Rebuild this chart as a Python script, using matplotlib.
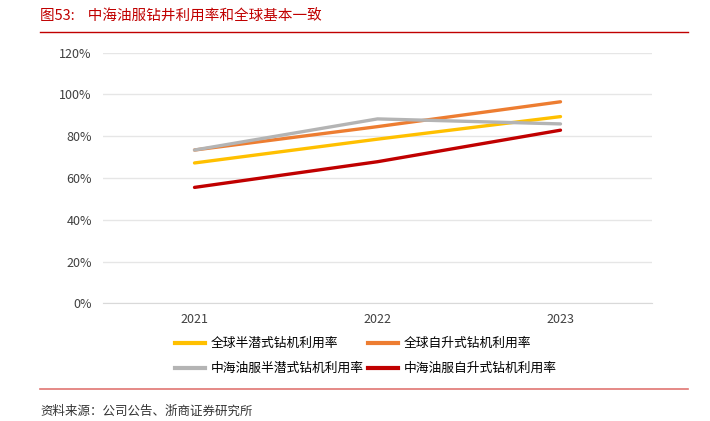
import matplotlib
matplotlib.use('Agg')
import matplotlib.pyplot as plt
from matplotlib.lines import Line2D
from matplotlib.ticker import FuncFormatter

plt.rcParams['font.family'] = ['Noto Sans CJK SC', 'DejaVu Sans']

years = ['2021', '2022', '2023']
global_semi = [67.2, 78.6, 89.4]      # 全球半潜式钻机利用率
global_jackup = [73.4, 84.6, 96.5]    # 全球自升式钻机利用率
cosl_semi = [73.4, 88.3, 85.9]        # 中海油服半潜式钻机利用率
cosl_jackup = [55.5, 67.8, 82.9]      # 中海油服自升式钻机利用率

series_names = ['全球半潜式钻机利用率', '全球自升式钻机利用率',
                '中海油服半潜式钻机利用率', '中海油服自升式钻机利用率']
colors = ['#FFC000', '#ED7D31', '#B4B4B4', '#C00000']

fig = plt.figure(figsize=(7.1, 4.21), dpi=100)
ax = fig.add_axes([0.1451, 0.2796, 0.7732, 0.5952])

x = range(len(years))
for vals, c in zip([global_semi, global_jackup, cosl_semi, cosl_jackup], colors):
    ax.plot(x, vals, color=c, lw=2.4, solid_capstyle='round')

ax.set_xlim(-0.5, 2.5)
ax.set_ylim(0, 120)
ax.set_yticks(range(0, 121, 20))
ax.yaxis.set_major_formatter(FuncFormatter(lambda v, p: f'{v:.0f}%'))
ax.set_xticks(list(x))
ax.set_xticklabels(years)
ax.grid(axis='y', color='#E6E6E6', lw=1)
ax.set_axisbelow(True)
for s in ax.spines.values():
    s.set_visible(False)
ax.spines['bottom'].set_visible(True)
ax.spines['bottom'].set_color('#D9D9D9')
ax.tick_params(length=0, labelsize=9, colors='#404040')
ax.tick_params(axis='y', pad=8)
ax.tick_params(axis='x', pad=7)

# legend is filled column by column, so reorder to get row-major layout
order = [0, 2, 1, 3]
handles = [Line2D([], [], color=colors[i], lw=3) for i in order]
labels = [series_names[i] for i in order]
fig.legend(handles, labels, ncol=2, loc='upper left',
           bbox_to_anchor=(175/710, 1 - 337/421), frameon=False, fontsize=9.2,
           handlelength=2.35, handletextpad=0.45, columnspacing=0.3,
           labelspacing=0.95, borderaxespad=0, borderpad=0)

# header and footer
fig.text(40/710, 1 - 17/421, '图53:    中海油服钻井利用率和全球基本一致', color='#C00000',
         fontsize=10.5, va='center', ha='left')
fig.add_artist(Line2D([40/710, 688/710], [1 - 32/421] * 2, color='#C00000', lw=1))
fig.add_artist(Line2D([40/710, 688/710], [1 - 389/421] * 2, color='#D9534F', lw=1.2, alpha=0.8))
fig.text(40/710, 1 - 411/421, '资料来源：公司公告、浙商证券研究所', color='#333333',
         fontsize=9, va='center', ha='left')

fig.savefig('out.png', dpi=100)
